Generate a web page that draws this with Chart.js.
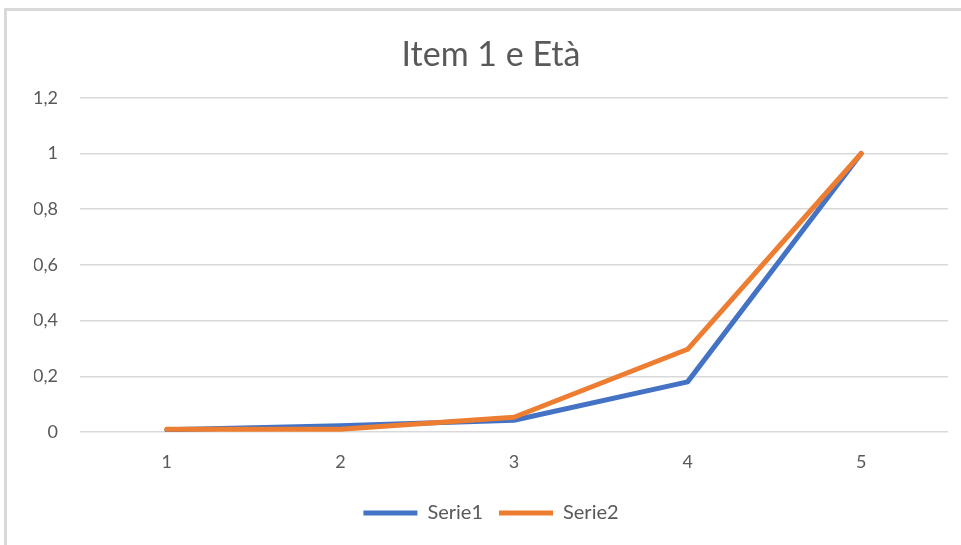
<!DOCTYPE html>
<html>
<head>
<meta charset="utf-8">
<title>Item 1 e Età</title>
<script src="https://cdn.jsdelivr.net/npm/chart.js@4/dist/chart.umd.min.js"></script>
<style>
  html, body { margin: 0; padding: 0; background: #ffffff; }
  #wrap { position: relative; width: 961px; height: 545px; overflow: hidden; }
  #frame {
    position: absolute; left: 4px; top: 8px; width: 1000px; height: 600px;
    border-left: 3px solid #d9d9d9; border-top: 3px solid #d9d9d9;
  }
  #chart { position: absolute; left: 0; top: 0; }
</style>
</head>
<body>
<div id="wrap">
  <div id="frame"></div>
  <canvas id="chart" width="961" height="545"></canvas>
</div>
<script>
// Categories on the horizontal axis
const categories = ['1', '2', '3', '4', '5'];

// Series values
const serie1 = [0.008, 0.022, 0.042, 0.18, 1];
const serie2 = [0.01, 0.01, 0.053, 0.297, 1];

// Vertical axis ticks
const yTickValues = [0, 0.2, 0.4, 0.6, 0.8, 1, 1.2];
const yTickLabels = ['0', '0,2', '0,4', '0,6', '0,8', '1', '1,2'];

const FONT = 'Lato, "Open Sans", "DejaVu Sans", sans-serif';
const TEXT = '#595959';

const seriesNames = ['Serie1', 'Serie2'];
const seriesColors = ['#4472C4', '#ED7D31'];

new Chart(document.getElementById('chart'), {
  type: 'line',
  data: {
    labels: categories,
    datasets: [
      { label: seriesNames[0], data: serie1, borderColor: seriesColors[0], backgroundColor: seriesColors[0], order: 1 },
      { label: seriesNames[1], data: serie2, borderColor: seriesColors[1], backgroundColor: seriesColors[1], order: 0 }
    ]
  },
  options: {
    responsive: false,
    animation: false,
    // left padding keeps the title and legend centred on the framed area
    layout: { padding: { left: 34, right: 13, top: 0, bottom: 12 } },
    elements: {
      line: { borderWidth: 5, tension: 0, borderCapStyle: 'round', borderJoinStyle: 'round' },
      point: { radius: 0, hoverRadius: 0 }
    },
    plugins: {
      title: {
        display: true,
        text: 'Item 1 e Età',
        color: TEXT,
        font: { family: FONT, size: 34, weight: 'normal' },
        padding: { top: 35, bottom: 22 }
      },
      legend: {
        position: 'bottom',
        labels: {
          color: TEXT,
          font: { family: FONT, size: 20 },
          boxWidth: 54,
          boxHeight: 5,
          padding: 16,
          generateLabels: (chart) => chart.data.datasets.map((ds, i) => ({
            text: ds.label,
            fillStyle: ds.borderColor,
            strokeStyle: ds.borderColor,
            lineWidth: 0,
            fontColor: TEXT,
            hidden: false,
            datasetIndex: i
          }))
        }
      },
      tooltip: { enabled: false }
    },
    scales: {
      x: {
        offset: true,
        grid: { display: false, drawTicks: false },
        border: { display: false },
        ticks: { color: TEXT, font: { family: FONT, size: 18 }, padding: 19, maxRotation: 0 },
        afterFit: (s) => { s.height = 55; }
      },
      y: {
        min: 0,
        max: 1.2,
        grid: { color: '#d9d9d9', lineWidth: 1.5, drawTicks: false },
        border: { display: false },
        afterBuildTicks: (s) => { s.ticks = yTickValues.map(v => ({ value: v })); },
        ticks: {
          color: TEXT,
          font: { family: FONT, size: 18 },
          padding: 22,
          callback: (v) => yTickLabels[yTickValues.indexOf(Math.round(v * 10) / 10)]
        },
        afterFit: (s) => { s.width = 46; }
      }
    }
  }
});
</script>
</body>
</html>
